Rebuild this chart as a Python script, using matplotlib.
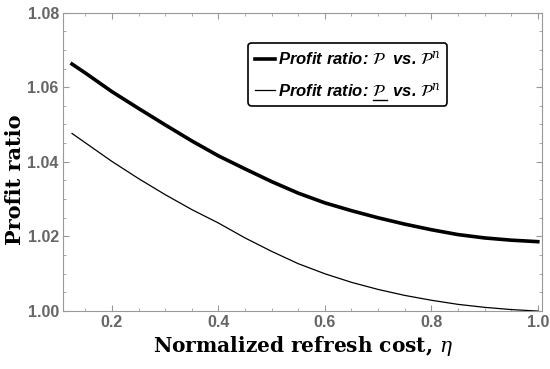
import matplotlib
matplotlib.use("Agg")
import matplotlib.pyplot as plt
from matplotlib.ticker import MultipleLocator
from matplotlib.lines import Line2D

plt.rcParams["mathtext.fontset"] = "dejavuserif"

eta = [0.125, 0.15, 0.2, 0.25, 0.3, 0.35, 0.4, 0.45, 0.5, 0.55, 0.6, 0.65, 0.7, 0.75, 0.8, 0.85, 0.9, 0.95, 1.0]
ratio_upper = [1.0662, 1.0638, 1.0588, 1.0543, 1.0499, 1.0456, 1.0416, 1.0381, 1.0347, 1.0316, 1.0290,
               1.0269, 1.0250, 1.0233, 1.0218, 1.0205, 1.0196, 1.0190, 1.0186]
ratio_lower = [1.0476, 1.0451, 1.0401, 1.0355, 1.0312, 1.0272, 1.0236, 1.0196, 1.0160, 1.0127, 1.0100,
               1.0077, 1.0058, 1.0042, 1.0029, 1.0018, 1.0010, 1.0004, 1.0000]
xticks = [0.2, 0.4, 0.6, 0.8, 1.0]
yticks = [1.00, 1.02, 1.04, 1.06, 1.08]
prefix = "Profit ratio: "
label_upper = prefix + r"$\mathcal{P}$  vs. $\mathcal{P}^n$"
label_lower = prefix + r"$\mathcal{P}$  vs. $\mathcal{P}^n$"

fig = plt.figure(figsize=(5.5, 3.69), dpi=100)
ax = fig.add_axes([0.1145, 0.157, 0.871, 0.809])

ax.plot(eta, ratio_upper, color="black", lw=2.6, label=label_upper)
ax.plot(eta, ratio_lower, color="black", lw=0.9, label=label_lower)

ax.set_xlim(0.108, 1.008)
ax.set_ylim(1.0, 1.08)
ax.set_xticks(xticks)
ax.set_yticks(yticks)
ax.xaxis.set_minor_locator(MultipleLocator(0.05))
ax.yaxis.set_minor_locator(MultipleLocator(0.005))
ax.set_xticklabels([f"{v:.1f}" for v in xticks])
ax.set_yticklabels([f"{v:.2f}" for v in yticks])

gray = "#999999"
for s in ax.spines.values():
    s.set_color(gray)
    s.set_linewidth(0.8)
ax.tick_params(which="both", direction="in", color=gray, top=True, right=True)
ax.tick_params(which="major", length=4, width=0.8, labelsize=11.5, labelcolor="#666666", pad=3)
ax.tick_params(which="minor", length=2, width=0.6)
for lab in ax.get_xticklabels() + ax.get_yticklabels():
    lab.set_fontfamily("Liberation Sans")
    lab.set_fontweight("bold")

ax.set_xlabel(r"Normalized refresh cost, $\eta$", fontfamily="DejaVu Serif", fontweight="bold",
              fontsize=14.5, labelpad=3)
ax.set_ylabel("Profit ratio", fontfamily="DejaVu Serif", fontweight="bold", fontsize=15)
ax.yaxis.set_label_coords(-0.079, 0.44)

legprop = {"family": "Liberation Sans", "weight": "bold", "style": "italic", "size": 12}
leg = ax.legend(loc="upper right", bbox_to_anchor=(0.802, 0.898), borderaxespad=0, frameon=True,
                fancybox=True, handlelength=1.2, handletextpad=0.2, borderpad=0.4,
                labelspacing=0.8, prop=legprop)
leg.get_frame().set_edgecolor("black")
leg.get_frame().set_linewidth(1.2)
leg.get_frame().set_alpha(1)

# underline the calligraphic P in the second legend entry
fig.canvas.draw()
r = fig.canvas.get_renderer()
t = leg.get_texts()[1]
bb = t.get_window_extent(r)
tmp = fig.text(0, 0, prefix, fontproperties=t.get_fontproperties())
wpre = tmp.get_window_extent(r).width
tmp.remove()
tmp = fig.text(0, 0, r"$\mathcal{P}$", fontproperties=t.get_fontproperties())
wp = tmp.get_window_extent(r).width
tmp.remove()
x0 = bb.x0 + wpre + 0.5
x1 = x0 + wp
y = bb.y0 - 1
W, H = fig.bbox.width, fig.bbox.height
fig.add_artist(Line2D([x0 / W, x1 / W], [y / H, y / H], color="black", lw=1.0, transform=fig.transFigure))

fig.savefig("out.png", dpi=100)
